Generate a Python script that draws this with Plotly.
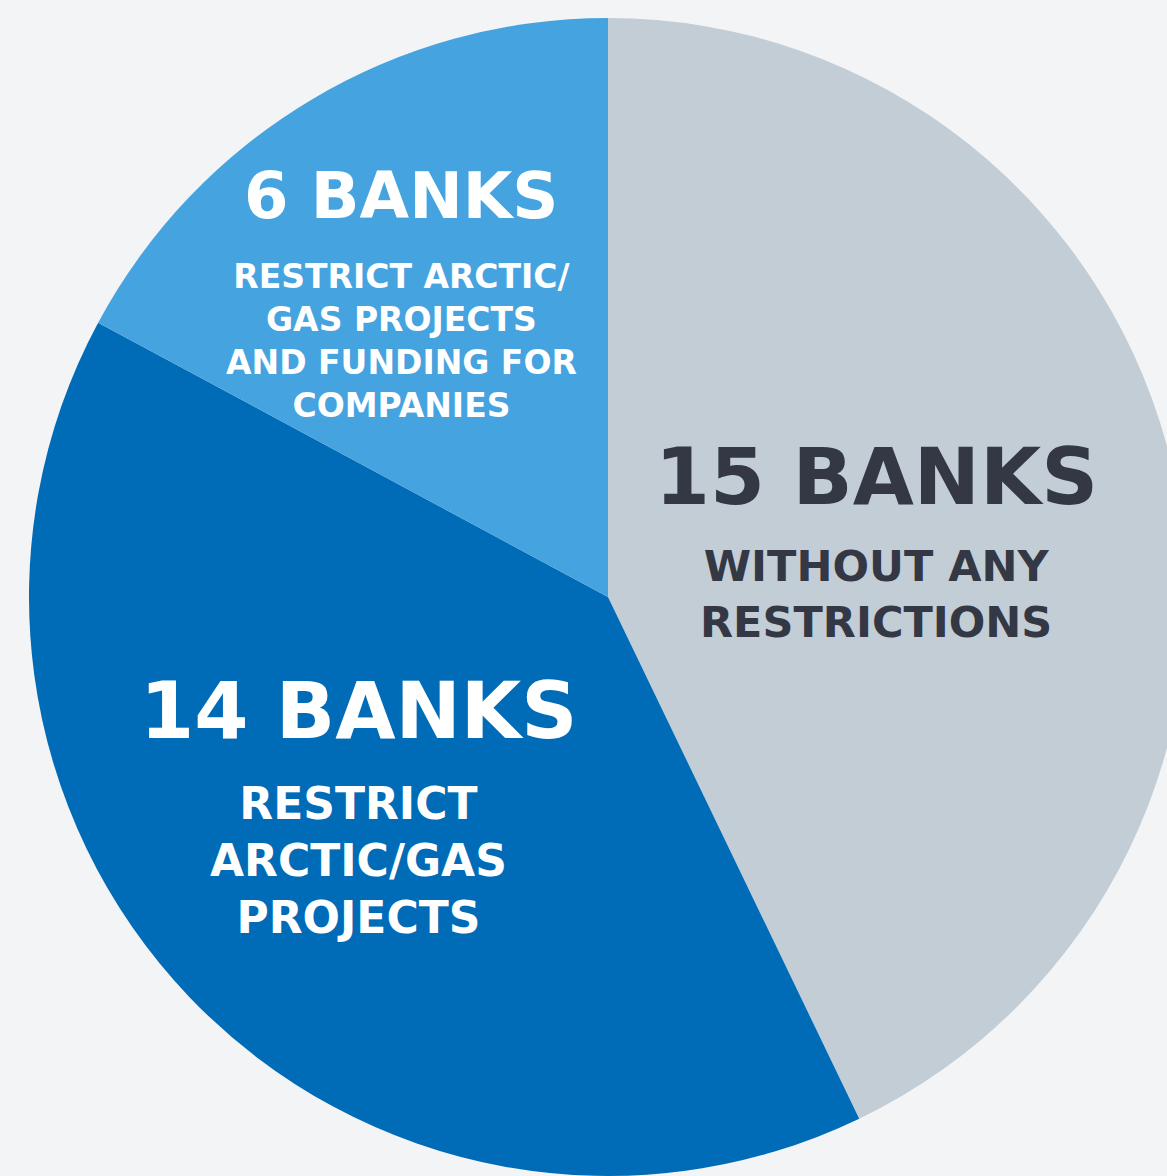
import plotly.graph_objects as go

# Data
categories = ["Without any restrictions", "Restrict Arctic/gas projects",
              "Restrict Arctic/gas projects and funding for companies"]
bank_counts = [15, 14, 6]
descriptions = ["WITHOUT ANY<br>RESTRICTIONS",
                "RESTRICT<br>ARCTIC/GAS<br>PROJECTS",
                "RESTRICT ARCTIC/<br>GAS PROJECTS<br>AND FUNDING FOR<br>COMPANIES"]
slice_colors = ["#c3cdd6", "#006bb6", "#45a3df"]
text_colors = ["#333844", "#ffffff", "#ffffff"]

W, H = 1200, 1200
cx, cy, r = 608, 597, 579  # pixel centre / radius of the pie

fig = go.Figure(go.Pie(
    labels=categories,
    values=bank_counts,
    sort=False,
    direction="clockwise",
    rotation=0,
    marker=dict(colors=slice_colors, line=dict(width=0)),
    textinfo="none",
    hoverinfo="label+value",
    showlegend=False,
    domain=dict(x=[(cx - r) / W, (cx + r) / W],
                y=[1 - (cy + r) / H, 1 - (cy - r) / H]),
))

FONT = "DejaVu Sans"
# label layout: (title x, title y, title size, body y, body size)
label_pos = [
    (876, 477, 79, 594, 43),
    (358, 711, 78, 860, 44),
    (401, 196, 64, 341, 33),
]

annotations = []
for n, desc, tc, (tx, ty, ts, by, bs) in zip(bank_counts, descriptions, text_colors, label_pos):
    annotations.append(dict(
        x=tx / W, y=1 - ty / H, xref="paper", yref="paper",
        text=f"{n} BANKS", showarrow=False, xanchor="center", yanchor="middle",
        font=dict(family=FONT, size=ts, color=tc, weight=700)))
    annotations.append(dict(
        x=tx / W, y=1 - by / H, xref="paper", yref="paper",
        text=desc, showarrow=False, xanchor="center", yanchor="middle",
        font=dict(family=FONT, size=bs, color=tc, weight=700)))

fig.update_layout(
    width=W, height=H,
    margin=dict(l=0, r=0, t=0, b=0),
    paper_bgcolor="#f3f4f6",
    plot_bgcolor="#f3f4f6",
    annotations=annotations,
)

fig.write_html("out.html", config=dict(displayModeBar=False),
               post_script="document.body.style.margin='0';document.body.style.overflow='hidden';")
